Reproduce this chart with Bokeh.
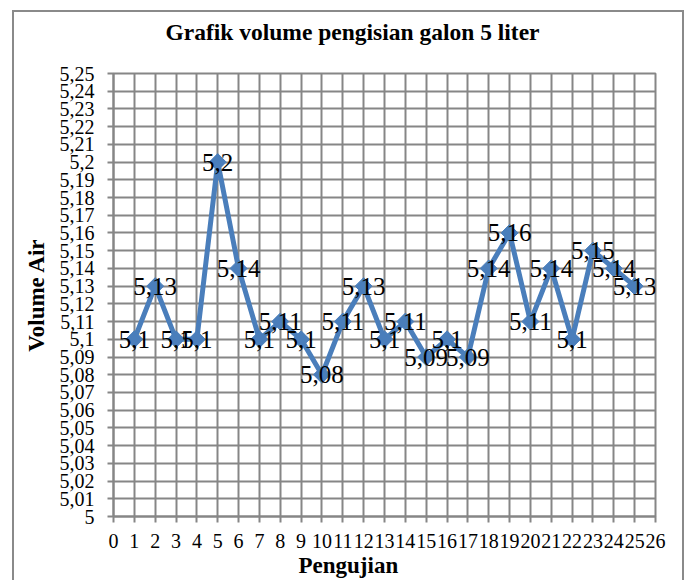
import math
from bokeh.plotting import figure
from bokeh.models import Range1d, FixedTicker, Title, ColumnDataSource
from bokeh.core.properties import value
from bokeh.embed import file_html
from bokeh.resources import INLINE

# ---- data ----
trial = list(range(1, 26))
volume = [5.10, 5.13, 5.10, 5.10, 5.20, 5.14, 5.10, 5.11, 5.10, 5.08,
          5.11, 5.13, 5.10, 5.11, 5.09, 5.10, 5.09, 5.14, 5.16, 5.11,
          5.14, 5.10, 5.15, 5.14, 5.13]
x_ticks = list(range(0, 27))
y_ticks = [5.00, 5.01, 5.02, 5.03, 5.04, 5.05, 5.06, 5.07, 5.08, 5.09,
           5.10, 5.11, 5.12, 5.13, 5.14, 5.15, 5.16, 5.17, 5.18, 5.19,
           5.20, 5.21, 5.22, 5.23, 5.24, 5.25]
y_tick_labels = ["5", "5,01", "5,02", "5,03", "5,04", "5,05", "5,06", "5,07", "5,08", "5,09",
                 "5,1", "5,11", "5,12", "5,13", "5,14", "5,15", "5,16", "5,17", "5,18", "5,19",
                 "5,2", "5,21", "5,22", "5,23", "5,24", "5,25"]
title_text = "Grafik volume pengisian galon 5 liter"
x_label = "Pengujian"
y_label = "Volume Air"


def fmt(v):
    s = f"{v:.2f}".rstrip("0").rstrip(".")
    return s.replace(".", ",")


labels = [fmt(v) for v in volume]
src = ColumnDataSource(dict(x=trial, y=volume, lab=labels))

GRID = "#868686"
BLUE = "#4A7EBB"
FONT = "Liberation Serif"
BOX = "#8a8a8a"

p = figure(width=689, height=580,
           x_range=Range1d(0, 26), y_range=Range1d(5, 5.25),
           output_backend="svg", toolbar_location=None,
           min_border_left=113, min_border_right=34,
           min_border_top=73, min_border_bottom=64)
g = f"linear-gradient({BOX},{BOX})"
p.styles = {
    "background-image": f"{g}, {g}, {g}",
    "background-size": "2px 100%, 672px 2px, 2px 100%",
    "background-position": "12px 10px, 12px 10px, 682px 10px",
    "background-repeat": "no-repeat",
}
p.background_fill_color = "white"
p.border_fill_color = None
p.outline_line_color = GRID
p.outline_line_width = 2

# spacer between frame and title, then the title itself (outermost)
p.add_layout(Title(text=" ", standoff=0, text_font=FONT, text_font_size="22px"), "above")
p.add_layout(Title(text=title_text, align="left", offset=52, standoff=4,
                   text_font=FONT, text_font_style="bold", text_font_size="23.5px",
                   text_color="black"), "above")

p.xaxis.ticker = FixedTicker(ticks=x_ticks)
p.yaxis.ticker = FixedTicker(ticks=y_ticks)
p.yaxis.major_label_overrides = dict(zip(y_ticks, y_tick_labels))

for ax in (p.xaxis[0], p.yaxis[0]):
    ax.axis_line_color = GRID
    ax.axis_line_width = 2
    ax.major_tick_line_color = GRID
    ax.major_tick_line_width = 2
    ax.major_tick_out = 6
    ax.major_tick_in = 0
    ax.minor_tick_out = 0
    ax.minor_tick_in = 0
    ax.major_label_text_font = FONT
    ax.major_label_text_font_size = "20px"
    ax.major_label_text_color = "black"
p.xaxis.major_label_standoff = 11
p.yaxis.major_label_standoff = 13

p.yaxis.axis_label = y_label
p.yaxis.axis_label_text_font = FONT
p.yaxis.axis_label_text_font_style = "bold"
p.yaxis.axis_label_text_font_size = "23px"
p.yaxis.axis_label_text_color = "black"
p.yaxis.axis_label_standoff = 8

p.add_layout(Title(text=x_label, align="left", offset=185, standoff=0,
                   text_font=FONT, text_font_style="bold", text_font_size="23px",
                   text_color="black"), "below")

for gr in (p.xgrid[0], p.ygrid[0]):
    gr.grid_line_color = GRID
    gr.grid_line_width = 2

p.line("x", "y", source=src, line_color=BLUE, line_width=5)
p.scatter("x", "y", source=src, marker="square", angle=math.pi / 4, size=12,
          fill_color=BLUE, line_color=BLUE)
p.text("x", "y", text="lab", source=src, text_font=value(FONT), text_font_size="25px",
       text_align="center", text_baseline="middle", text_color="black")

open("out.html", "w").write(file_html(p, INLINE))
